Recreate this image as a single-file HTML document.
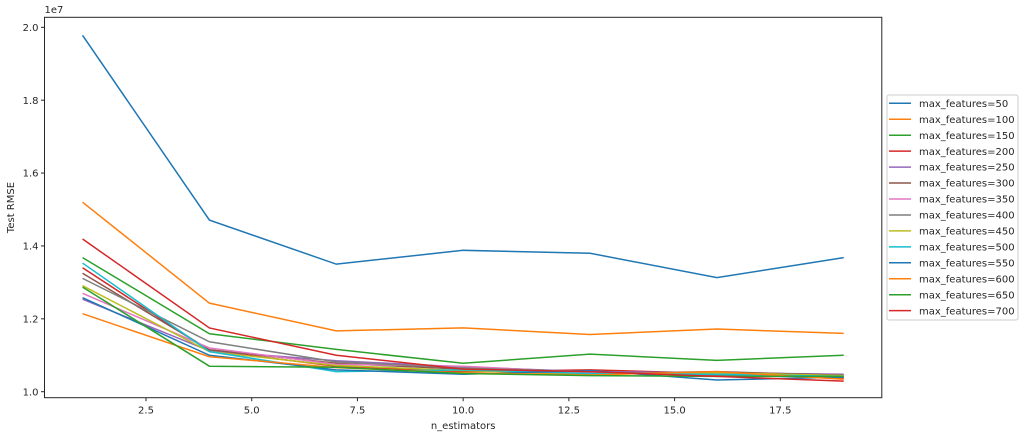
<!DOCTYPE html>
<html><head><meta charset="utf-8"><style>
body{margin:0;background:#fff;width:1024px;height:437px;overflow:hidden}
svg text{font-family:"DejaVu Sans","Liberation Sans",sans-serif;fill:#262626}
</style></head><body>
<svg id="chart" width="1024" height="437"></svg>
<script>
const xs=[1,4,7,10,13,16,19];
const seriesLabels=["max_features=50","max_features=100","max_features=150","max_features=200","max_features=250","max_features=300","max_features=350","max_features=400","max_features=450","max_features=500","max_features=550","max_features=600","max_features=650","max_features=700"];
const s50=[19.78,14.71,13.50,13.88,13.80,13.13,13.68];
const s100=[15.20,12.43,11.67,11.75,11.57,11.72,11.60];
const s150=[13.68,11.59,11.16,10.78,11.03,10.86,11.00];
const s200=[13.40,11.13,10.70,10.55,10.60,10.50,10.38];
const s250=[12.54,11.12,10.85,10.68,10.55,10.52,10.48];
const s300=[13.25,11.15,10.78,10.62,10.50,10.55,10.45];
const s350=[12.70,11.20,10.75,10.70,10.52,10.50,10.42];
const s400=[13.11,11.37,10.82,10.65,10.55,10.45,10.40];
const s450=[12.91,11.10,10.72,10.58,10.48,10.52,10.44];
const s500=[13.53,11.10,10.55,10.60,10.50,10.48,10.42];
const s550=[12.58,11.00,10.60,10.48,10.58,10.32,10.40];
const s600=[12.14,10.96,10.66,10.52,10.46,10.55,10.34];
const s650=[12.87,10.70,10.67,10.50,10.44,10.42,10.42];
const s700=[14.19,11.75,11.00,10.62,10.55,10.42,10.29];
const allSeries=[s50,s100,s150,s200,s250,s300,s350,s400,s450,s500,s550,s600,s650,s700];
const xTicks=[2.5,5.0,7.5,10.0,12.5,15.0,17.5];
const yTicks=[1.0,1.2,1.4,1.6,1.8,2.0];
const colors=["#1f77b4","#ff7f0e","#2ca02c","#d62728","#9467bd","#8c564b","#e377c2","#7f7f7f","#bcbd22","#17becf"];
const NS="http://www.w3.org/2000/svg";
const svg=document.getElementById('chart');
const L=44.5,R=881.8,T=17.3,B=397.7;
const xMin=0.1,xMax=19.9;
function X(v){return L+(v-xMin)/(xMax-xMin)*(R-L);}
function Y(v){return 391.7-(v-10)*36.44;} // v in 1e6
function el(t,a,p){const e=document.createElementNS(NS,t);for(const k in a)e.setAttribute(k,a[k]);(p||svg).appendChild(e);return e;}
// axes box
const frame=el('rect',{x:L,y:T,width:R-L,height:B-T,fill:'none',stroke:'#262626','stroke-width':1});


xTicks.forEach(t=>{
  const g=el('g',{});
  
  
  el('line',{x1:X(t),x2:X(t),y1:B,y2:B+3.5,stroke:'#262626'},g);
  const tx=el('text',{x:X(t),y:B+16,'font-size':10,'text-anchor':'middle'},g);tx.textContent=t.toFixed(1);
});
yTicks.forEach(t=>{
  const g=el('g',{});
  
  
  const y=Y(t*10);
  el('line',{x1:L-3.5,x2:L,y1:y,y2:y,stroke:'#262626'},g);
  const tx=el('text',{x:L-6,y:y+3.6,'font-size':10,'text-anchor':'end'},g);tx.textContent=t.toFixed(1);
});
const off=el('text',{x:L,y:13,'font-size':10});off.textContent='1e7';


const xl=el('text',{x:(L+R)/2,y:429,'font-size':10,'text-anchor':'middle'});xl.textContent='n_estimators';


const yl=el('text',{x:14,y:(T+B)/2,'font-size':10,'text-anchor':'middle',transform:`rotate(-90 14 ${(T+B)/2})`});yl.textContent='Test RMSE';


allSeries.forEach((s,i)=>{
  const pl=el('polyline',{points:s.map((v,j)=>X(xs[j])+','+Y(v)).join(' '),fill:'none',stroke:colors[i%10],'stroke-width':1.5});
  
  
});
// legend
const lg=el('g',{});


el('rect',{x:887,y:95,width:131,height:225,rx:2,fill:'#fff',stroke:'#cccccc'},lg);
seriesLabels.forEach((n,i)=>{
  const g=el('g',{},lg);
  
  
  const y=103.3+i*15.95;
  el('line',{x1:889,x2:911,y1:y,y2:y,stroke:colors[i%10],'stroke-width':1.5},g);
  const t=el('text',{x:919,y:y+3.6,'font-size':10},g);t.textContent=n;
});
</script>
</body></html>
